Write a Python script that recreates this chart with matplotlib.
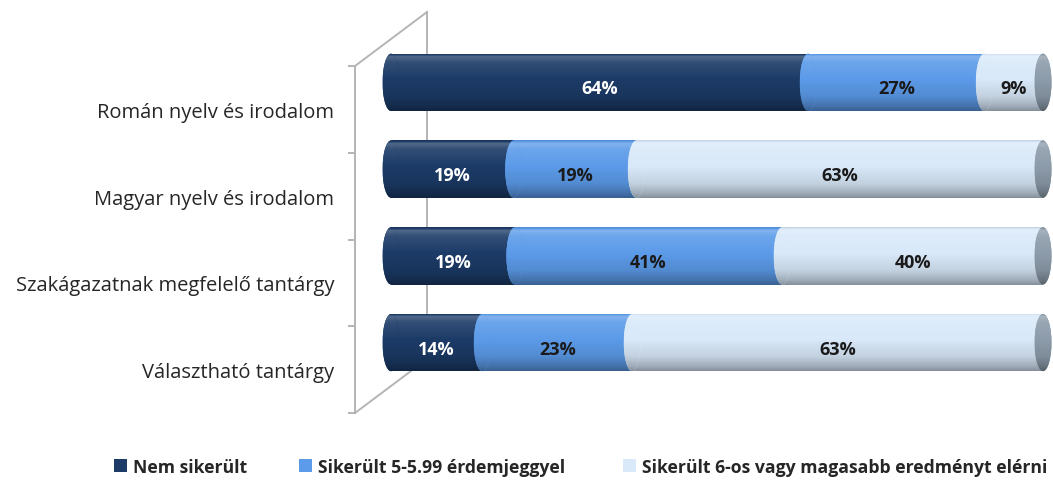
import numpy as np
import matplotlib
matplotlib.use("Agg")
import matplotlib.pyplot as plt
from matplotlib.patches import Ellipse
from matplotlib.lines import Line2D
from matplotlib.colors import to_rgb

categories = ["Román nyelv és irodalom", "Magyar nyelv és irodalom",
              "Szakágazatnak megfelelő tantárgy", "Választható tantárgy"]
series_names = ["Nem sikerült", "Sikerült 5-5.99 érdemjeggyel",
                "Sikerült 6-os vagy magasabb eredményt elérni"]
nem_sikerult = [64, 19, 19, 14]
sikerult_5 = [27, 19, 41, 23]
sikerult_6 = [9, 63, 40, 63]

colors = ["#1C3B67", "#5C9BE9", "#D9E9F9"]
label_colors = ["white", "#1a1a1a", "#1a1a1a"]
cap_color = "#8D9CAB"
axis_gray = "#B4B4B4"

W, H = 1053, 481
fig = plt.figure(figsize=(W / 100, H / 100), dpi=100)
plt.rcParams['font.family'] = ['Open Sans', 'DejaVu Sans']


def fx(px):
    return px / W


def fy(py):
    return 1 - py / H


# geometry (pixels)
front_x, back_x, bar_x0, bar_x1 = 355, 427, 391, 1043
front_top, front_bot = 67, 414
back_top, back_bot = 13, 360
mid_top, mid_bot = 40, 387

# back wall axis
ax_back = fig.add_axes([fx(back_x), fy(back_bot), 0.001, (back_bot - back_top) / H])
ax_back.set_zorder(1)
ax_back.patch.set_visible(False)
for s in ["top", "right", "bottom"]:
    ax_back.spines[s].set_visible(False)
ax_back.spines["left"].set_color(axis_gray)
ax_back.spines["left"].set_linewidth(1.4)
ax_back.set_xticks([])
ax_back.set_yticks([])

# front axis with category labels
n = len(categories)
ax_front = fig.add_axes([fx(front_x), fy(front_bot), 0.001, (front_bot - front_top) / H])
ax_front.set_zorder(2)
ax_front.patch.set_visible(False)
for s in ["top", "right", "bottom"]:
    ax_front.spines[s].set_visible(False)
ax_front.spines["left"].set_color(axis_gray)
ax_front.spines["left"].set_linewidth(1.4)
ax_front.set_xticks([])
ax_front.set_ylim(n, 0)
ax_front.set_yticks(np.arange(n + 1))
ax_front.set_yticklabels([])
ax_front.tick_params(axis="y", which="major", length=5, width=1.4, color=axis_gray, direction="out")
ax_front.set_yticks(np.arange(n) + 0.5, minor=True)
ax_front.set_yticklabels(categories, minor=True, fontsize=14.5, color="#262626")
ax_front.tick_params(axis="y", which="minor", length=0, pad=15)
for lab in ax_front.get_yticklabels(minor=True):
    lab.set_va("center_baseline")

# floor/side diagonals
for (y1, y2) in [(front_top, back_top), (front_bot, back_bot)]:
    fig.add_artist(Line2D([fx(front_x), fx(back_x)], [fy(y1), fy(y2)],
                          color=axis_gray, lw=1.4, zorder=1))

# bars axis at mid depth (x range padded so the end caps stay inside)
xpad_l, xpad_r = 1.6, 1.6
ppu = (bar_x1 - bar_x0) / 100.0
ax_l = bar_x0 - xpad_l * ppu
ax_r = bar_x1 + xpad_r * ppu
ax = fig.add_axes([fx(ax_l), fy(mid_bot), (ax_r - ax_l) / W, (mid_bot - mid_top) / H])
ax.set_zorder(5)
ax.patch.set_visible(False)
ax.axis("off")

data = np.array([nem_sikerult, sikerult_5, sikerult_6], dtype=float)
shares = data / data.sum(axis=0) * 100
ypos = np.arange(n)
bar_h = 0.66
cap_w = 2.6


def shade(base, N=64):
    c = np.array(to_rgb(base))
    t = np.linspace(0, 1, N)
    f = np.interp(t, [0, 0.05, 0.15, 0.45, 0.75, 0.92, 1.0],
                  [0.9, 1.12, 1.05, 1.0, 0.9, 0.74, 0.62])
    out = np.zeros((N, 1, 4))
    for i, fi in enumerate(f):
        if fi >= 1:
            col = c + (1 - c) * (fi - 1) * 2.0
        else:
            col = c * fi
        out[i, 0, :3] = np.clip(col, 0, 1)
        out[i, 0, 3] = 1
    return out


z = 2.0
lefts = np.zeros(n)
containers = []
for k in range(3):
    cont = ax.barh(ypos, shares[k], left=lefts, height=bar_h, color=colors[k],
                   linewidth=0, zorder=z)
    containers.append(cont)
    grad = shade(colors[k])
    for i, rect in enumerate(cont.patches):
        x0, y0 = rect.get_x(), rect.get_y()
        w, h = rect.get_width(), rect.get_height()
        im = ax.imshow(grad, extent=(x0, x0 + w, y0 + h, y0), aspect="auto",
                       origin="upper", zorder=z + 0.1, interpolation="bilinear")
        im.set_clip_path(rect)
        # left rounded cap of the segment
        el = Ellipse((x0, ypos[i]), cap_w, h, facecolor=colors[k], linewidth=0,
                     zorder=z + 0.2)
        ax.add_patch(el)
        im2 = ax.imshow(grad, extent=(x0 - cap_w / 2, x0 + cap_w / 2, y0 + h, y0),
                        aspect="auto", origin="upper", zorder=z + 0.3,
                        interpolation="bilinear")
        im2.set_clip_path(el)
        # value label
        ax.text(x0 + w / 2, ypos[i] + 0.07, f"{int(data[k][i])}%",
                ha="center", va="center", fontsize=13, fontweight="bold",
                color=label_colors[k], zorder=20)
    lefts = lefts + shares[k]
    z += 1

# right end caps
cap_grad = shade(cap_color)
for i in range(n):
    el = Ellipse((lefts[i], ypos[i]), cap_w, bar_h, facecolor=cap_color, linewidth=0,
                 zorder=z)
    ax.add_patch(el)
    im = ax.imshow(cap_grad, extent=(lefts[i] - cap_w / 2, lefts[i] + cap_w / 2,
                                     ypos[i] + bar_h / 2, ypos[i] - bar_h / 2),
                   aspect="auto", origin="upper", zorder=z + 0.1,
                   interpolation="bilinear")
    im.set_clip_path(el)

ax.set_xlim(-xpad_l, 100 + xpad_r)
ax.set_ylim(n - 0.5, -0.5)

# legend: one entry each, placed like the reference
leg_x = [114, 299, 623]
for k in range(3):
    lg = fig.legend([containers[k].patches[0]], [series_names[k]],
                    loc="center left", bbox_to_anchor=(fx(leg_x[k]), fy(468)),
                    frameon=False, fontsize=12.7, handlelength=0.75, handleheight=0.75,
                    handletextpad=0.3, borderpad=0, borderaxespad=0)
    for t in lg.get_texts():
        t.set_fontweight("bold")
        t.set_color("#262626")

fig.savefig("out.png", dpi=100)
